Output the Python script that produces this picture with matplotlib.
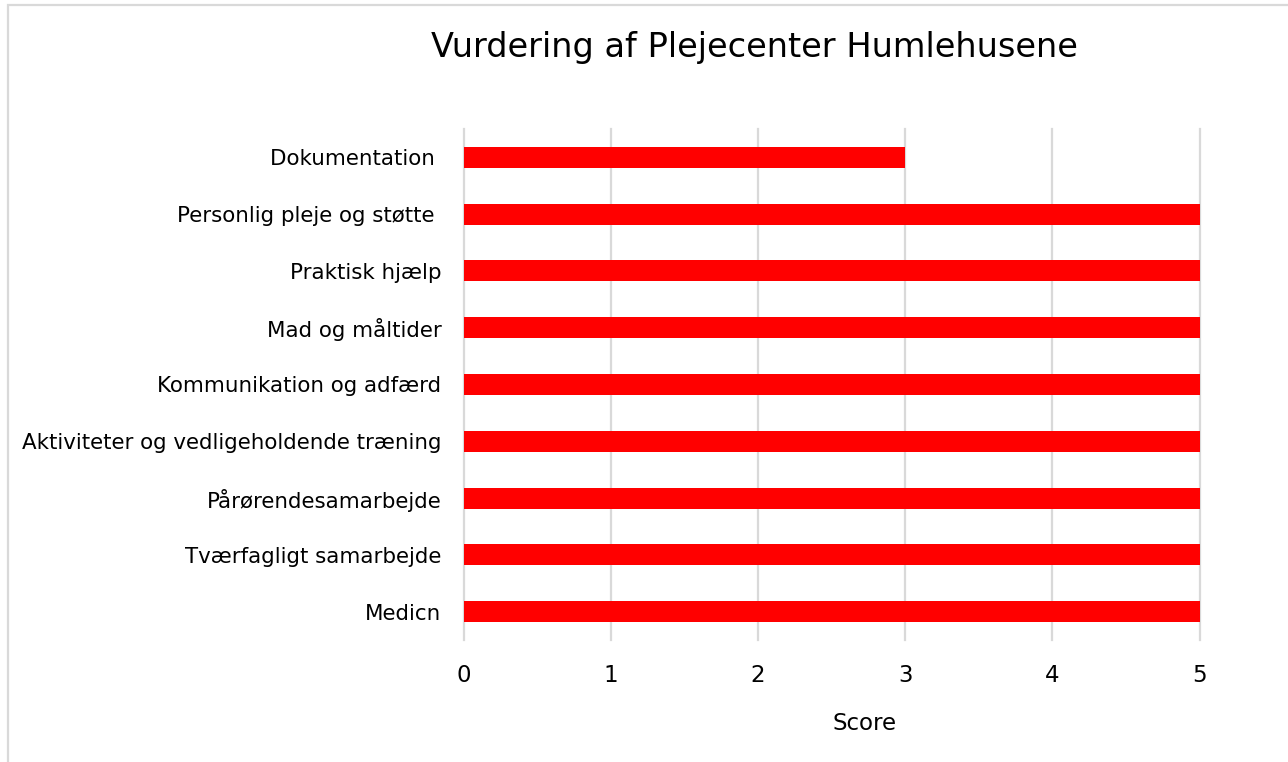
import matplotlib.pyplot as plt
from matplotlib.patches import Rectangle

categories = ['Medicn', 'Tværfagligt samarbejde', 'Pårørendesamarbejde',
              'Aktiviteter og vedligeholdende træning', 'Kommunikation og adfærd',
              'Mad og måltider', 'Praktisk hjælp', 'Personlig pleje og støtte ',
              'Dokumentation ']
scores = [5, 5, 5, 5, 5, 5, 5, 5, 3]
xticks = [0, 1, 2, 3, 4, 5]

W, H = 1288, 762
fig = plt.figure(figsize=(W / 100, H / 100), dpi=100)
ax = fig.add_axes([463.5 / W, 1 - 640 / H, 736 / W, 511 / H])

# light frame around the chart area (open to the right/bottom)
fig.patches.append(Rectangle((7.5 / W, -0.05), 1.2, 1 - 4.5 / H + 0.05,
                             transform=fig.transFigure, fill=False,
                             edgecolor='#d9d9d9', lw=1.6))

ax.barh(range(len(categories)), scores, height=0.37, color='#ff0000', zorder=3)
ax.set_xlim(0, 5)
ax.set_ylim(-0.5, len(categories) - 0.5)
ax.set_xticks(xticks)
ax.set_yticks(range(len(categories)))
ax.set_yticklabels(categories)
ax.grid(axis='x', color='#d9d9d9', lw=1.6, zorder=0)
for gl in ax.get_xgridlines():
    gl.set_clip_on(False)
for s in ax.spines.values():
    s.set_visible(False)
ax.tick_params(axis='both', length=0, colors='black')
ax.tick_params(axis='y', pad=16, labelsize=15.4)
ax.tick_params(axis='x', pad=17, labelsize=16.5)

fig.text(754 / W, 1 - 47 / H, 'Vurdering af Plejecenter Humlehusene',
         ha='center', va='center', fontsize=24.2)
fig.text(865 / W, 1 - 723 / H, 'Score', ha='center', va='center', fontsize=16.5)

fig.savefig('out.png', dpi=100, facecolor='white')
